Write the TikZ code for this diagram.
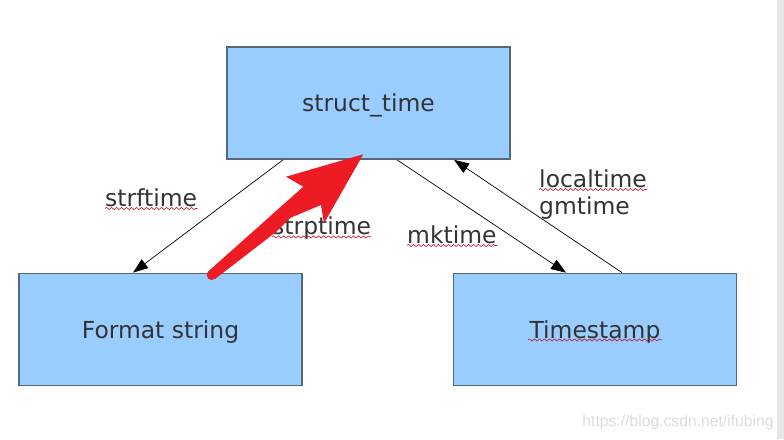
\documentclass[tikz,border=0pt]{standalone}
\usepackage{fontspec}
\setmainfont{DejaVu Sans}
\newfontfamily\wmfont{Liberation Sans}
\usetikzlibrary{arrows.meta,decorations.pathmorphing}

\definecolor{boxblue}{HTML}{99CCFF}
\definecolor{boxline}{HTML}{56677A}
\definecolor{txtgray}{HTML}{333333}
\definecolor{markred}{HTML}{ED1C24}
\definecolor{spellred}{HTML}{C0102A}
\definecolor{wmgray}{HTML}{DCDCDC}
\definecolor{stripgray}{HTML}{E6E6E6}

\begin{document}
\begin{tikzpicture}[x=0.03cm,y=-0.03cm,
  font=\fontsize{20pt}{24pt}\selectfont,
  typebox/.style={draw=boxline,line width=1.2pt,fill=boxblue,text=txtgray,
    minimum width=8.49cm,minimum height=3.37cm,text height=14.6pt,text depth=0pt},
  conv/.style={draw=black,line width=0.6pt,-{Triangle[length=0.45cm,width=0.33cm]}},
  fname/.style={text=txtgray,inner sep=0pt,anchor=base west},
  spell/.style={draw=spellred,line width=0.5pt,
    decorate,decoration={snake,segment length=0.15cm,amplitude=0.033cm}}]

\useasboundingbox (0,0) rectangle (784,439);
\fill[stripgray] (777,0) rectangle (784,439);

% the three kinds of time value
\node[typebox] (st) at (368.5,103) {struct\_time};
\node[typebox] (fs) at (160.5,329.5) {Format string};
\node[typebox] (ts) at (595,329.5) {Timestamp};

% conversions
\draw[conv] ([xshift=-2.565cm]st.south) -- ([xshift=-0.825cm]fs.north);
\draw[conv] ([xshift=1.455cm]fs.north) -- ([xshift=-0.39cm]st.south);
\draw[conv] ([xshift=0.855cm]st.south) -- ([xshift=-0.87cm]ts.north);
\draw[conv] ([xshift=0.81cm]ts.north) -- ([xshift=2.565cm]st.south);

\node[fname] (sf) at (105,206) {strftime};
\node[fname] (sp) at (272,234.5) {strptime};
\node[fname] (mk) at (407,243) {mktime};
\node[fname] (lt) at (539,187) {localtime};
\node[fname] (gm) at (539,214) {gmtime};

% spell check marks
\draw[spell] ([yshift=-0.075cm]sf.base west) -- ([yshift=-0.075cm]sf.base east);
\draw[spell] ([yshift=-0.075cm]sp.base west) -- ([yshift=-0.075cm]sp.base east);
\draw[spell] ([yshift=-0.075cm]mk.base west) -- ([yshift=-0.075cm]mk.base east);
\draw[spell] ([yshift=-0.075cm]lt.base west) -- ([yshift=-0.075cm]lt.base east);
\draw[spell] (528,340) -- (662,340);

% red mark
\coordinate (rs) at (211.7,275);
\coordinate (rt) at (363.3,154.3);
\fill[markred] (rs) circle (5);
\fill[markred] (208.5,271.2) -- (303.3,186.7) -- (286,176.7) -- (rt)
  -- (324,223.3) -- (321,205) -- (290,218) -- (276,232) -- (215,279) -- cycle;

\node[text=wmgray,font=\wmfont\fontsize{13.4pt}{16pt}\selectfont,inner sep=0pt]
  (wm) at (678,422) {https://blog.csdn.net/ifubing};

\end{tikzpicture}
\end{document}
